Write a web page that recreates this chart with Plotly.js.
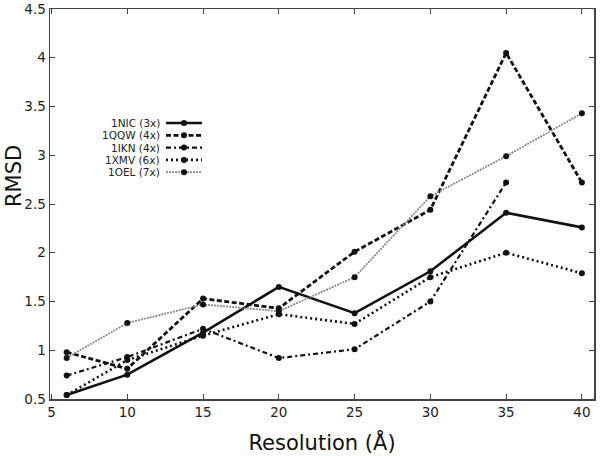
<!DOCTYPE html>
<html>
<head>
<meta charset="utf-8">
<script src="https://cdn.plot.ly/plotly-3.0.1.min.js"></script>
<style>html,body{margin:0;padding:0;background:#fff;}#chart{width:600px;height:456px;}</style>
</head>
<body>
<div id="chart"></div>
<script>
// Data
const resolution = [6, 10, 15, 20, 25, 30, 35, 40];
const seriesNames = ["1NIC (3x)", "1QQW (4x)", "1IKN (4x)", "1XMV (6x)", "1OEL (7x)"];
const rmsd_1NIC = [0.54, 0.75, 1.18, 1.65, 1.38, 1.81, 2.41, 2.26];
const rmsd_1QQW = [0.98, 0.81, 1.53, 1.43, 2.01, 2.44, 4.05, 2.72];
const rmsd_1IKN = [0.74, 0.93, 1.22, 0.92, 1.01, 1.50, 2.72, null];
const rmsd_1XMV = [0.54, 0.90, 1.15, 1.37, 1.27, 1.75, 2.00, 1.79];
const rmsd_1OEL = [0.92, 1.28, 1.47, 1.40, 1.75, 2.58, 2.99, 3.43];
const xTicks = [5, 10, 15, 20, 25, 30, 35, 40];
const yTicks = [0.5, 1, 1.5, 2, 2.5, 3, 3.5, 4, 4.5];

const allValues = [rmsd_1NIC, rmsd_1QQW, rmsd_1IKN, rmsd_1XMV, rmsd_1OEL];
const styles = [
  {color: "#111", width: 2.6, dash: "solid"},
  {color: "#111", width: 2.8, dash: "5px,2.5px"},
  {color: "#111", width: 2.2, dash: "5px,3px,2px,3px"},
  {color: "#111", width: 2.6, dash: "2px,3px"},
  {color: "#8a8a8a", width: 1.8, dash: "2px,1px"}
];

const traces = allValues.map((vals, i) => {
  const xs = [], ys = [];
  vals.forEach((v, j) => { if (v !== null) { xs.push(resolution[j]); ys.push(v); } });
  return {
    x: xs, y: ys, type: "scatter", mode: "lines+markers", name: seriesNames[i],
    line: {color: styles[i].color, width: styles[i].width, dash: styles[i].dash},
    marker: {color: "#111", size: 6, symbol: "circle"},
    showlegend: false, cliponaxis: false
  };
});

// Manual legend (text left of the sample, as in the reference)
const W = 600, H = 456, mL = 50, mR = 6, mT = 9, mB = 57;
const pw = W - mL - mR, ph = H - mT - mB;
const px2x = p => (p - mL) / pw;
const py2y = p => (H - mB - p) / ph;
const legTop = 123, legStep = 12.3;
const shapes = [], annotations = [];
seriesNames.forEach((nm, i) => {
  const yy = py2y(legTop + i * legStep);
  shapes.push({type: "line", xref: "paper", yref: "paper", x0: px2x(166), x1: px2x(202), y0: yy, y1: yy,
    line: {color: styles[i].color, width: styles[i].width, dash: styles[i].dash}});
  shapes.push({type: "circle", xref: "paper", yref: "paper", xsizemode: "pixel", ysizemode: "pixel",
    xanchor: px2x(184), yanchor: yy, x0: -3, x1: 3, y0: -3, y1: 3,
    fillcolor: "#111", line: {color: "#111", width: 0}});
  annotations.push({xref: "paper", yref: "paper", x: px2x(161), y: yy, xanchor: "right", yanchor: "middle",
    text: nm, showarrow: false, borderpad: 0, font: {family: "DejaVu Sans", size: 10.5, color: "#222"}});
});
// Y axis title, placed as in the reference (above the axis centre)
annotations.push({xref: "paper", yref: "paper", x: px2x(14), y: py2y(176), xanchor: "center", yanchor: "middle",
  text: "RMSD", textangle: -90, showarrow: false, borderpad: 0,
  font: {family: "DejaVu Sans", size: 21, color: "#111"}});

const axisCommon = {
  showgrid: false, zeroline: false, showline: true, linecolor: "#444", linewidth: 1.5,
  mirror: "ticks", ticks: "inside", ticklen: 5, tickwidth: 1, tickcolor: "#444",
  tickfont: {family: "DejaVu Sans", size: 13.5, color: "#222"}, ticklabelstandoff: 0,
  ticklabeloverflow: "allow"
};

const layout = {
  width: W, height: H,
  margin: {l: mL, r: mR, t: mT, b: mB},
  paper_bgcolor: "#fff", plot_bgcolor: "#fff",
  xaxis: Object.assign({}, axisCommon, {range: [4.9, 40.8], tickvals: xTicks,
    ticktext: xTicks.map(String),
    title: {text: "Resolution (Å)", font: {family: "DejaVu Sans", size: 21, color: "#111"}, standoff: 16}}),
  yaxis: Object.assign({}, axisCommon, {range: [0.5, 4.5], tickvals: yTicks,
    ticktext: yTicks.map(String)}),
  shapes: shapes, annotations: annotations, showlegend: false
};

Plotly.newPlot("chart", traces, layout, {displayModeBar: false, staticPlot: true});
</script>
</body>
</html>
